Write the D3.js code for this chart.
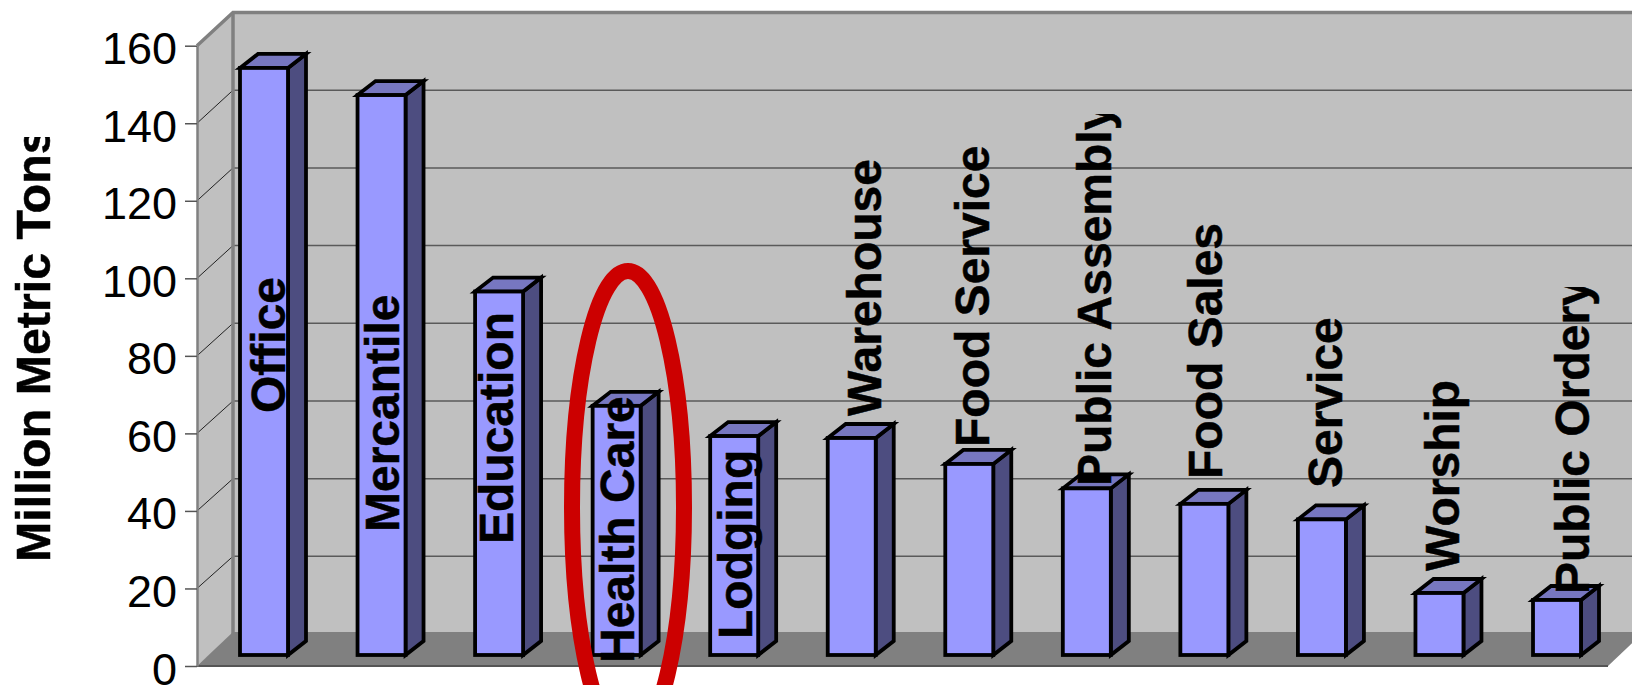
<!DOCTYPE html>
<html>
<head>
<meta charset="utf-8">
<script src="https://cdn.jsdelivr.net/npm/d3@7"></script>
<style>
  html, body { margin: 0; padding: 0; background: #fff; overflow: hidden; }
  text { font-family: "Liberation Sans", Arial, sans-serif; }
</style>
</head>
<body>
<div id="graph"></div>
<script>
const categories = ["Office", "Mercantile", "Education", "Health Care", "Lodging", "Warehouse",
  "Food Service", "Public Assembly", "Food Sales", "Service", "Worship", "Public Ordery"];
const emissions = [151.5, 144.5, 93.8, 64.3, 56.5, 56, 49.3, 43, 39, 35, 16, 14.2];
const tickValues = [0, 20, 40, 60, 80, 100, 120, 140, 160];
const axisTitle = "Million Metric Tons";

// where each label sits, these were dragged by hand in the original so they don't follow the bars
const labelBottom = [413, 532, 544, 663, 639, 416, 447, 486, 479, 488, 571, 594];
const labelRight = [45, 41, 38, 41, 42, 53, 44, 48, 42, 44, 44, 56];
const labelClipTop = [0, 0, 0, 0, 0, 0, 0, 114, 0, 0, 0, 287];

const fullwidth = 1632;
const fullheight = 685;

const x0 = 197;                       // front edge of the side wall
const depthX = 36, depthY = 34;       // wall depth
const barDepthX = 18, barDepthY = 14;
const floorRight = 1608;
const xWall = x0 + depthX;

var svg = d3.select("#graph").append("svg")
  .attr("width", fullwidth)
  .attr("height", fullheight)
  .style("display", "block");

var defs = svg.append("defs");

// front plane, back wall and bar plane all share the value domain
var yFront = d3.scaleLinear().domain([0, 160]).range([666, 45.7]);
var yBack = d3.scaleLinear().domain([0, 160]).range([634, 12.5]);
var yBar = d3.scaleLinear().domain([0, 160]).range([655, 35]);

var xBar = d3.scaleBand()
  .domain(categories)
  .range([240, 1581])
  .paddingInner(0.5917)
  .paddingOuter(0);

var poly = d3.line();

// walls
svg.append("path")
  .attr("d", poly([[xWall, yBack(160)], [fullwidth + 20, yBack(160)], [fullwidth + 20, yBack(0)], [xWall, yBack(0)]]) + "Z")
  .attr("fill", "#C0C0C0");
svg.append("path")
  .attr("d", poly([[x0, yFront(160)], [xWall, yBack(160)], [xWall, yBack(0)], [x0, yFront(0)]]) + "Z")
  .attr("fill", "#C0C0C0");

// gridlines on back wall and the slanted bit on the side wall
var gridVals = tickValues.filter(d => d > 0 && d < 160);
svg.selectAll(".grid").data(gridVals).enter().append("line")
  .attr("class", "grid")
  .attr("x1", xWall).attr("x2", fullwidth)
  .attr("y1", d => yBack(d)).attr("y2", d => yBack(d))
  .attr("stroke", "#5a5a5a").attr("stroke-width", 1.5);
svg.selectAll(".slant").data(gridVals).enter().append("line")
  .attr("class", "slant")
  .attr("x1", x0).attr("x2", xWall)
  .attr("y1", d => yFront(d)).attr("y2", d => yBack(d))
  .attr("stroke", "#222").attr("stroke-width", 1);

// wall edges
svg.append("path")
  .attr("d", poly([[x0, yFront(160)], [xWall, yBack(160)], [fullwidth + 20, yBack(160)]]))
  .attr("fill", "none").attr("stroke", "#808080").attr("stroke-width", 3.5);
svg.append("line")
  .attr("x1", xWall).attr("x2", xWall)
  .attr("y1", yBack(160)).attr("y2", yBack(0))
  .attr("stroke", "#808080").attr("stroke-width", 3.5);

// floor
svg.append("path")
  .attr("d", poly([[x0, yFront(0)], [xWall, yFront(0) - depthY], [floorRight + depthX, yFront(0) - depthY], [floorRight, yFront(0)]]) + "Z")
  .attr("fill", "#808080");
svg.append("line")
  .attr("x1", x0).attr("x2", floorRight)
  .attr("y1", yFront(0)).attr("y2", yFront(0))
  .attr("stroke", "#555").attr("stroke-width", 2);

// bars
var bars = svg.selectAll(".bar").data(categories).enter().append("g").attr("class", "bar");
var bw = xBar.bandwidth();
var barStroke = g => g.attr("stroke", "#000").attr("stroke-width", 3.8).attr("stroke-linejoin", "miter");

bars.append("path")
  .attr("d", (d, i) => {
    var l = xBar(d) + bw, t = yBar(emissions[i]), b = yBar(0);
    return poly([[l, t], [l + barDepthX, t - barDepthY], [l + barDepthX, b - barDepthY], [l, b]]) + "Z";
  })
  .attr("fill", "#4D4D80")
  .call(barStroke);
bars.append("path")
  .attr("d", (d, i) => {
    var l = xBar(d), t = yBar(emissions[i]);
    return poly([[l, t], [l + barDepthX, t - barDepthY], [l + bw + barDepthX, t - barDepthY], [l + bw, t]]) + "Z";
  })
  .attr("fill", "#7777C0")
  .call(barStroke);
bars.append("rect")
  .attr("x", d => xBar(d))
  .attr("y", (d, i) => yBar(emissions[i]))
  .attr("width", bw)
  .attr("height", (d, i) => yBar(0) - yBar(emissions[i]))
  .attr("fill", "#9999FF")
  .call(barStroke);

// y axis
var yAxis = d3.axisLeft(yFront)
  .tickValues(tickValues)
  .tickFormat(d3.format("d"))
  .tickSize(12)
  .tickSizeOuter(0)
  .tickPadding(8);
var axisG = svg.append("g")
  .attr("transform", "translate(" + x0 + ",0)")
  .call(yAxis);
axisG.select(".domain").attr("stroke", "#808080").attr("stroke-width", 2.5);
axisG.selectAll(".tick line").attr("stroke", "#555").attr("stroke-width", 1.5);
axisG.selectAll(".tick text")
  .attr("font-size", 45)
  .attr("fill", "#000")
  .attr("dy", "0.4em");

// axis title, cut off at the top like in the original
defs.append("clipPath").attr("id", "titleClip").append("rect")
  .attr("x", 0).attr("y", 137).attr("width", 80).attr("height", 500);
svg.append("g").attr("clip-path", "url(#titleClip)")
  .append("text")
  .attr("transform", "translate(50,562) rotate(-90)")
  .attr("font-size", 48.4)
  .attr("font-weight", "bold")
  .attr("fill", "#000")
  .attr("stroke", "#000").attr("stroke-width", 0.5)
  .text(axisTitle);

// category labels
categories.forEach(function(c, i) {
  defs.append("clipPath").attr("id", "labelClip" + i).append("rect")
    .attr("x", 0).attr("y", labelClipTop[i]).attr("width", fullwidth).attr("height", fullheight);
  svg.append("g").attr("clip-path", "url(#labelClip" + i + ")")
    .append("text")
    .attr("transform", "translate(" + (xBar(c) + labelRight[i]) + "," + labelBottom[i] + ") rotate(-90)")
    .attr("font-size", 48)
    .attr("font-weight", "bold")
    .attr("fill", "#000")
    .attr("stroke", "#000").attr("stroke-width", 0.5)
    .text(c);
});

// red ring around health care
svg.append("ellipse")
  .attr("cx", 628).attr("cy", 507)
  .attr("rx", 56).attr("ry", 236)
  .attr("fill", "none")
  .attr("stroke", "#CC0000")
  .attr("stroke-width", 16);
</script>
</body>
</html>
